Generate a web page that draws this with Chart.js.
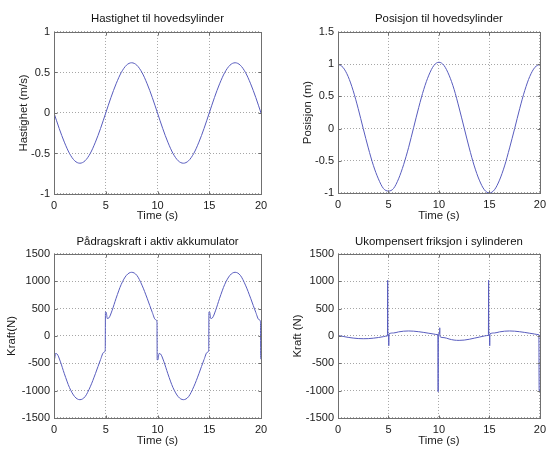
<!DOCTYPE html>
<html>
<head>
<meta charset="utf-8">
<script src="https://cdn.jsdelivr.net/npm/chart.js@4.4.0/dist/chart.umd.min.js"></script>
<style>
  body { margin: 0; background: #fff; }
  #wrap { position: relative; width: 551px; height: 449px; overflow: hidden; }
  #wrap canvas { position: absolute; }
</style>
</head>
<body>
<div id="wrap">
  <canvas id="c1" width="275" height="225" style="left:0;top:0"></canvas>
  <canvas id="c2" width="276" height="225" style="left:275px;top:0"></canvas>
  <canvas id="c3" width="275" height="224" style="left:0;top:225px"></canvas>
  <canvas id="c4" width="276" height="224" style="left:275px;top:225px"></canvas>
</div>
<script>
var timeTicks = [0, 5, 10, 15, 20];
var velTicks = [-1, -0.5, 0, 0.5, 1];
var posTicks = [-1, -0.5, 0, 0.5, 1, 1.5];
var forceTicks = [-1500, -1000, -500, 0, 500, 1000, 1500];

var smoothTime = [0, 0.5, 1, 1.5, 2, 2.5, 3, 3.5, 4, 4.5, 5, 5.5, 6, 6.5, 7, 7.5, 8, 8.5, 9, 9.5, 10,
  10.5, 11, 11.5, 12, 12.5, 13, 13.5, 14, 14.5, 15, 15.5, 16, 16.5, 17, 17.5, 18, 18.5, 19, 19.5, 20];

var velocity = [0, -0.19, -0.36, -0.5, -0.59, -0.62, -0.59, -0.5, -0.36, -0.19, 0, 0.19, 0.36, 0.5, 0.59, 0.62, 0.59, 0.5, 0.36, 0.19, 0,
  -0.19, -0.36, -0.5, -0.59, -0.62, -0.59, -0.5, -0.36, -0.19, 0, 0.19, 0.36, 0.5, 0.59, 0.62, 0.59, 0.5, 0.36, 0.19, 0];

var position = [1, 0.95, 0.81, 0.59, 0.31, 0, -0.3, -0.57, -0.78, -0.93, -0.97, -0.93, -0.78, -0.56, -0.29, 0.02, 0.33, 0.61, 0.83, 0.98, 1.03,
  0.98, 0.83, 0.61, 0.32, 0.01, -0.3, -0.58, -0.8, -0.95, -1, -0.95, -0.8, -0.58, -0.3, 0, 0.31, 0.59, 0.81, 0.95, 1];

var forceTime = [0, 0.05, 0.15, 0.3, 0.6, 1, 1.5, 2, 2.5, 3, 3.5, 4, 4.5,
  4.8, 4.95, 4.97, 5.05, 5.15, 5.3, 5.6, 6, 6.5, 7, 7.5, 8, 8.5, 9, 9.5,
  9.8, 9.95, 9.97, 10.05, 10.15, 10.3, 10.6, 11, 11.5, 12, 12.5, 13, 13.5, 14, 14.5,
  14.8, 14.95, 14.97, 15.05, 15.15, 15.3, 15.6, 16, 16.5, 17, 17.5, 18, 18.5, 19, 19.5,
  19.8, 19.95, 19.97, 20];
var force = [-420, -420, -320, -330, -460, -690, -945, -1110, -1165, -1110, -930, -690, -430,
  -300, -260, 440, 430, 320, 330, 460, 690, 945, 1110, 1165, 1110, 930, 690, 430,
  300, 260, -440, -430, -320, -330, -460, -690, -945, -1110, -1165, -1110, -930, -690, -430,
  -300, -260, 440, 430, 320, 330, 460, 690, 945, 1110, 1165, 1110, 930, 690, 430,
  300, 260, -420, -420];

var fricTime = [0, 0.5, 1, 1.5, 2, 2.5, 3, 3.5, 4, 4.5,
  4.88, 4.9, 4.92, 4.94, 5.0, 5.03, 5.06, 5.5, 6, 6.5, 7, 7.5, 8, 8.5, 9, 9.5,
  9.88, 9.9, 9.92, 9.94, 10.06, 10.08, 10.1, 10.5, 11, 11.5, 12, 12.5, 13, 13.5, 14, 14.5,
  14.88, 14.9, 14.92, 14.94, 15.0, 15.03, 15.06, 15.5, 16, 16.5, 17, 17.5, 18, 18.5, 19, 19.5,
  19.88, 19.9, 19.93, 20];
var friction = [10, -8, -25, -38, -47, -50, -48, -40, -28, -12,
  0, 0, 1020, 30, 30, -180, 40, 55, 75, 88, 92, 88, 78, 65, 50, 35,
  25, 25, -1020, 40, 40, 150, -10, -30, -55, -75, -80, -75, -60, -40, -20, 0,
  10, 10, 1020, 30, 30, -180, 40, 55, 75, 88, 92, 88, 78, 65, 50, 35,
  25, 25, -1000, -1000];

Chart.defaults.font.family = "'Liberation Sans', Arial, sans-serif";
Chart.defaults.font.size = 11;
Chart.defaults.color = '#1a1a1a';

var lineColor = 'rgb(88, 92, 190)';
var axisColor = '#707070';
var gridColor = 'rgba(0,0,0,0.35)';

// matlab style box with small inward ticks
var boxPlugin = {
  id: 'box',
  afterDraw: function(chart) {
    var ctx = chart.ctx;
    var a = chart.chartArea;
    var l = Math.round(a.left) + 0.5, t = Math.round(a.top) + 0.5;
    var r = Math.round(a.right) + 0.5, b = Math.round(a.bottom) + 0.5;
    ctx.save();
    ctx.strokeStyle = axisColor;
    ctx.lineWidth = 1;
    ctx.strokeRect(l, t, r - l, b - t);
    ctx.beginPath();
    chart.scales.x.ticks.forEach(function(tk) {
      var px = Math.round(chart.scales.x.getPixelForValue(tk.value)) + 0.5;
      ctx.moveTo(px, b); ctx.lineTo(px, b - 3);
      ctx.moveTo(px, t); ctx.lineTo(px, t + 3);
    });
    chart.scales.y.ticks.forEach(function(tk) {
      var py = Math.round(chart.scales.y.getPixelForValue(tk.value)) + 0.5;
      ctx.moveTo(l, py); ctx.lineTo(l + 3, py);
      ctx.moveTo(r, py); ctx.lineTo(r - 3, py);
    });
    ctx.stroke();
    ctx.restore();
  }
};

function makeChart(id, title, yLabel, xs, ys, yTicks, box) {
  var canvas = document.getElementById(id);
  var points = xs.map(function(x, i) { return {x: x, y: ys[i]}; });
  return new Chart(canvas, {
    type: 'line',
    data: {
      datasets: [{
        data: points,
        borderColor: lineColor,
        borderWidth: 1,
        pointRadius: 0,
        fill: false,
        cubicInterpolationMode: 'monotone'
      }]
    },
    options: {
      responsive: false,
      animation: false,
      layout: { padding: { left: 0, top: 0, bottom: 0, right: canvas.width - box.right } },
      plugins: {
        legend: { display: false },
        tooltip: { enabled: false },
        title: {
          display: true,
          text: title,
          fullSize: false,
          color: '#111',
          font: { size: 11.4, weight: 'normal', lineHeight: 1.2 },
          padding: { top: box.titleTop, bottom: box.top - box.titleTop - 13.7 }
        }
      },
      scales: {
        x: {
          type: 'linear',
          min: 0,
          max: 20,
          afterBuildTicks: function(s) { s.ticks = timeTicks.map(function(v) { return {value: v}; }); },
          afterFit: function(s) { s.height = canvas.height - box.bottom; },
          grid: { color: gridColor, drawTicks: false },
          border: { display: false, dash: [1, 2] },
          ticks: { padding: 5, maxRotation: 0, callback: function(v) { return String(v); } },
          title: { display: true, text: 'Time (s)', font: { size: 11.4 }, padding: { top: 0, bottom: box.xTitle } }
        },
        y: {
          min: yTicks[0],
          max: yTicks[yTicks.length - 1],
          afterBuildTicks: function(s) { s.ticks = yTicks.map(function(v) { return {value: v}; }); },
          afterFit: function(s) { s.width = box.left; },
          grid: { color: gridColor, drawTicks: false },
          border: { display: false, dash: [1, 2] },
          ticks: { padding: 4, callback: function(v) { return String(v); } },
          title: { display: true, text: yLabel, font: { size: 11.4 }, padding: { top: box.yTitle, bottom: 0 } }
        }
      }
    },
    plugins: [boxPlugin]
  });
}

makeChart('c1', 'Hastighet til hovedsylinder', 'Hastighet (m/s)', smoothTime, velocity, velTicks,
  { left: 54, right: 261, top: 32, bottom: 194, titleTop: 12, xTitle: 2, yTitle: 17 });
makeChart('c2', 'Posisjon til hovedsylinder', 'Posisjon (m)', smoothTime, position, posTicks,
  { left: 63, right: 269, top: 32, bottom: 193, titleTop: 12, xTitle: 2, yTitle: 26 });
makeChart('c3', 'Pådragskraft i aktiv akkumulator', 'Kraft(N)', forceTime, force, forceTicks,
  { left: 54, right: 261, top: 29, bottom: 193, titleTop: 10, xTitle: 1.5, yTitle: 5 });
makeChart('c4', 'Ukompensert friksjon i sylinderen', 'Kraft (N)', fricTime, friction, forceTicks,
  { left: 63, right: 269, top: 29, bottom: 193, titleTop: 10, xTitle: 1.5, yTitle: 16 });
</script>
</body>
</html>
